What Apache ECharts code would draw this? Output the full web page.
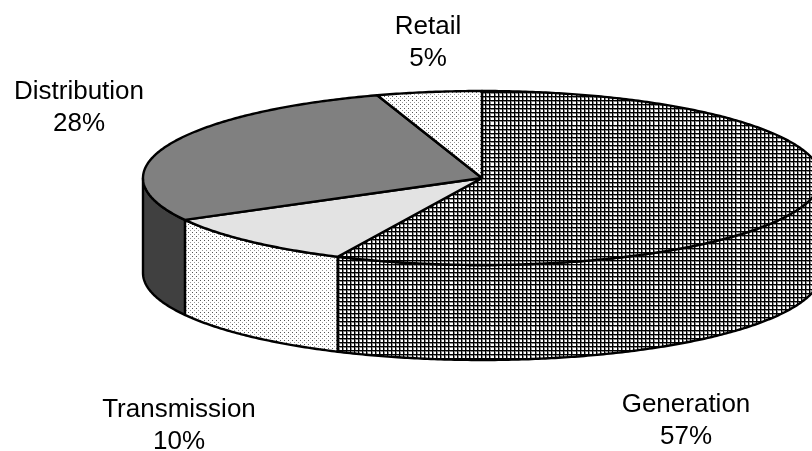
<!DOCTYPE html>
<html><head><meta charset="utf-8">
<script src="https://cdn.jsdelivr.net/npm/echarts@6/dist/echarts.min.js"></script>
<style>html,body{margin:0;padding:0;background:#fff}#c{width:812px;height:451px}</style>
</head><body><div id="c"></div>
<script>
// ---- data ----
const categories = ['Generation', 'Transmission', 'Distribution', 'Retail'];
const values = [57, 10, 28, 5];
const percentLabels = ['57%', '10%', '28%', '5%'];

// ---- layout (not data) ----
const CX = 482, CY = 178, RX = 339, RY = 87, DEPTH = 95;
const labelPos = [[686, 421], [179, 426], [79, 108], [428, 43]];

function makeTile(w, h, draw) {
  const c = document.createElement('canvas'); c.width = w; c.height = h;
  const g = c.getContext('2d'); g.fillStyle = '#fff'; g.fillRect(0, 0, w, h); draw(g); return c;
}
const gridTile = makeTile(41, 41, g => {
  for (let k = 0; k < 10; k++) {
    g.fillStyle = '#888'; g.fillRect(3 + 4 * k, 0, 1, 41); g.fillRect(0, 3 + 4 * k, 41, 1);
  }
  for (let k = 0; k < 10; k++) {
    g.fillStyle = '#000'; g.fillRect(2 + 4 * k, 0, 1, 41); g.fillRect(0, 2 + 4 * k, 41, 1);
  }
});
const dotTile = makeTile(4, 4, g => {
  g.fillStyle = '#555'; g.fillRect(0, 0, 1, 1);
  g.fillStyle = '#999'; g.fillRect(2, 2, 1, 1);
});
const gridPat = { type: 'pattern', image: gridTile, repeat: 'repeat' };
const dotPat = { type: 'pattern', image: dotTile, repeat: 'repeat' };
const topFill = [gridPat, '#e3e3e3', '#808080', dotPat];
const sideFill = [gridPat, dotPat, '#404040', dotPat];

const total = values.reduce((a, b) => a + b, 0);
const starts = []; { let acc = 0; values.forEach(v => { starts.push(acc); acc += v; }); }

function pt(t, dz) { return [CX + RX * Math.sin(t), CY - RY * Math.cos(t) + dz]; }
function arc(a0, a1, dz) {
  const n = Math.max(2, Math.ceil(Math.abs(a1 - a0) / 0.01));
  const out = [];
  for (let i = 0; i <= n; i++) out.push(pt(a0 + (a1 - a0) * i / n, dz));
  return out;
}

function renderItem(params, api) {
  const i = params.dataIndex;
  const v = api.value(0);
  const a0 = starts[i] / total * Math.PI * 2;
  const a1 = (starts[i] + v) / total * Math.PI * 2;
  const children = [];
  const s = Math.max(a0, Math.PI / 2), e = Math.min(a1, Math.PI * 1.5);
  if (e > s) {
    const wall = arc(s, e, 0).concat(arc(e, s, DEPTH));
    children.push({ type: 'polygon', shape: { points: wall },
      style: { fill: sideFill[i], stroke: '#000', lineWidth: 2.4, lineJoin: 'round' } });
  }
  const top = [[CX, CY]].concat(arc(a0, a1, 0));
  children.push({ type: 'polygon', shape: { points: top },
    style: { fill: topFill[i], stroke: '#000', lineWidth: 2.4, lineJoin: 'round' } });
  children.push({ type: 'text', x: labelPos[i][0], y: labelPos[i][1],
    style: { text: categories[i] + '\n' + percentLabels[i], fill: '#000',
      fontFamily: 'Liberation Sans, Arial, sans-serif', fontSize: 26, lineHeight: 32,
      align: 'center', verticalAlign: 'middle' } });
  return { type: 'group', children };
}

const chart = echarts.init(document.getElementById('c'), null, { renderer: 'canvas' });
chart.setOption({
  animation: false,
  series: [{
    type: 'custom', coordinateSystem: 'none', silent: true,
    renderItem, data: values.map(v => [v])
  }]
});
</script></body></html>
